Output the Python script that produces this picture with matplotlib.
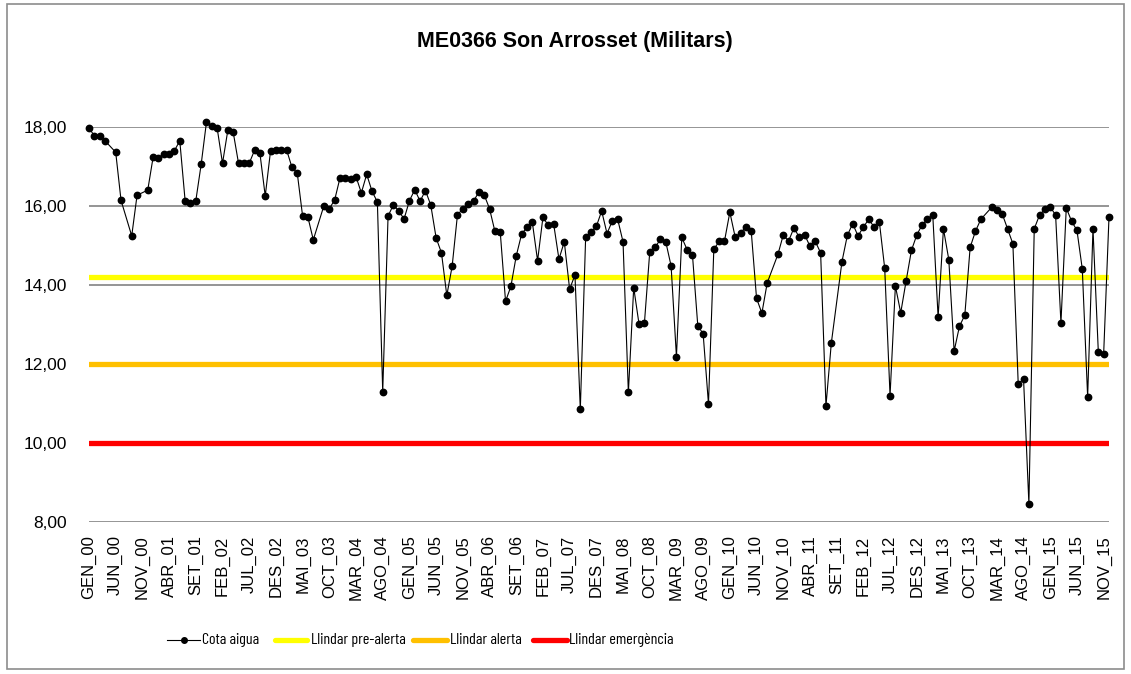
import numpy as np
import matplotlib
matplotlib.use("Agg")
import matplotlib.pyplot as plt
from matplotlib import font_manager
from matplotlib.patches import Rectangle
from matplotlib.lines import Line2D

names = {f.name for f in font_manager.fontManager.ttflist}
if 'Barlow Condensed' in names:
    narrow, legend_size = 'Barlow Condensed', 11.5
elif 'Archivo Narrow' in names:
    narrow, legend_size = 'Archivo Narrow', 9.5
else:
    narrow, legend_size = 'Liberation Sans', 8.5
regular = 'Liberation Sans'

# ---- data ----
month_abbr = ['GEN', 'FEB', 'MAR', 'ABR', 'MAI', 'JUN', 'JUL', 'AGO', 'SET', 'OCT', 'NOV', 'DES']
years = list(range(2000, 2016))
categories = [f"{m}_{y % 100:02d}" for y in years for m in month_abbr]

N = np.nan
cota_aigua = [
    17.97, 17.78, 17.78, 17.65, N, 17.36, 16.14, N, 15.24, 16.27, N, 16.40,          # 2000
    17.23, 17.21, 17.32, 17.32, 17.40, 17.65, 16.13, 16.08, 16.13, 17.05, 18.13, 18.02,  # 2001
    17.97, 17.08, 17.92, 17.87, 17.08, 17.10, 17.08, 17.41, 17.34, 16.25, 17.40, 17.42,  # 2002
    17.42, 17.42, 16.98, 16.83, 15.74, 15.71, 15.14, N, 16.01, 15.93, 16.15, 16.71,   # 2003
    16.71, 16.68, 16.74, 16.33, 16.80, 16.37, 16.10, 11.29, 15.74, 16.03, 15.87, 15.67,  # 2004
    16.13, 16.41, 16.12, 16.39, 16.02, 15.19, 14.81, 13.73, 14.47, 15.78, 15.92, 16.04,  # 2005
    16.12, 16.35, 16.28, 15.93, 15.36, 15.35, 13.58, 13.96, 14.73, 15.28, 15.46, 15.60,  # 2006
    14.61, 15.71, 15.51, 15.55, 14.65, 15.09, 13.89, 14.25, 10.84, 15.21, 15.33, 15.48,  # 2007
    15.87, 15.30, 15.62, 15.66, 15.09, 11.27, 13.93, 13.00, 13.02, 14.83, 14.95, 15.15,  # 2008
    15.09, 14.48, 12.18, 15.20, 14.89, 14.76, 12.96, 12.76, 10.98, 14.90, 15.10, 15.11,  # 2009
    15.84, 15.21, 15.31, 15.47, 15.37, 13.66, 13.28, 14.05, N, 14.77, 15.26, 15.11,   # 2010
    15.44, 15.21, 15.27, 14.98, 15.10, 14.81, 10.93, 12.52, N, 14.59, 15.25, 15.55,   # 2011
    15.24, 15.46, 15.66, 15.47, 15.59, 14.42, 11.19, 13.97, 13.29, 14.09, 14.87, 15.26,  # 2012
    15.52, 15.66, 15.77, 13.18, 15.42, 14.64, 12.32, 12.95, 13.23, 14.95, 15.36, 15.66,  # 2013
    N, 15.96, 15.90, 15.80, 15.42, 15.04, 11.49, 11.61, 8.45, 15.42, 15.77, 15.92,    # 2014
    15.97, 15.77, 13.03, 15.95, 15.61, 15.38, 14.40, 11.16, 15.42, 12.30, 12.25, 15.72,  # 2015
]
llindar_prealerta = 14.2
llindar_alerta = 12.0
llindar_emergencia = 10.0
yticks = [8, 10, 12, 14, 16, 18]
legend_labels = ['Cota aigua', 'Llindar pre-alerta', 'Llindar alerta', 'Llindar emergència']

# ---- figure ----
W, H = 1131, 674
fig = plt.figure(figsize=(W / 100, H / 100), dpi=100)
fig.patch.set_facecolor('white')
fig.add_artist(Rectangle((7 / W, 1 - 669 / H), (1124 - 7) / W, (669 - 4) / H,
                         transform=fig.transFigure, fill=False,
                         edgecolor='#8c8c8c', linewidth=1.2))

ax = fig.add_axes([89 / W, 1 - 521.5 / H, (1109 - 89) / W, (521.5 - 127) / H])
x = np.arange(len(categories))
y = np.array(cota_aigua, dtype=float)
ok = ~np.isnan(y)

for val in yticks:
    ax.axhline(val, color='#8c8c8c', lw=1.3, zorder=1)

colors = ['black', '#FFFF00', '#FFC000', '#FF0000']
ax.axhline(llindar_prealerta, color=colors[1], lw=3.8, solid_capstyle='round', zorder=2)
ax.axhline(llindar_alerta, color=colors[2], lw=3.8, solid_capstyle='round', zorder=2)
ax.axhline(llindar_emergencia, color=colors[3], lw=3.8, solid_capstyle='round', zorder=2)

ax.plot(x[ok], y[ok], color='black', lw=0.8, marker='o', ms=4.6,
        zorder=3, clip_on=False)

ax.set_xlim(0, len(categories) - 1)
ax.set_ylim(8, 18)
ax.set_yticks(yticks)
ax.set_yticklabels([f"{v:.2f}".replace('.', ',') for v in yticks],
                   fontfamily=regular, fontsize=12.5)
tick_idx = list(range(0, len(categories), 5))
ax.set_xticks(tick_idx)
ax.set_xticklabels([categories[i] for i in tick_idx], rotation=90,
                   fontfamily=regular, fontsize=12)
ax.tick_params(axis='y', length=0, pad=16)
ax.tick_params(axis='x', length=0, pad=10)
for s in ax.spines.values():
    s.set_visible(False)

fig.text(575 / W, 1 - 42 / H, 'ME0366 Son Arrosset (Militars)', ha='center', va='center',
         fontfamily=regular, fontweight='bold', fontsize=15.5)

# legend drawn manually at the reference entry positions
handle_x = [(167, 200), (275, 307), (413, 447), (533, 567)]
text_x = [202, 311, 450, 569]
ly = 1 - 640 / H
for i, (lab, (x0, x1), tx) in enumerate(zip(legend_labels, handle_x, text_x)):
    if i == 0:
        fig.add_artist(Line2D([x0 / W, x1 / W], [ly, ly], transform=fig.transFigure,
                              color='black', lw=0.8))
        fig.add_artist(Line2D([(x0 + x1) / 2 / W], [ly], transform=fig.transFigure,
                              color='black', marker='o', ms=4, lw=0))
    else:
        fig.add_artist(Line2D([x0 / W, x1 / W], [ly, ly], transform=fig.transFigure,
                              color=colors[i], lw=3.8, solid_capstyle='round'))
    fig.text(tx / W, ly, lab, ha='left', va='center', fontfamily=narrow, fontsize=legend_size)

fig.savefig('out.png', dpi=100)
